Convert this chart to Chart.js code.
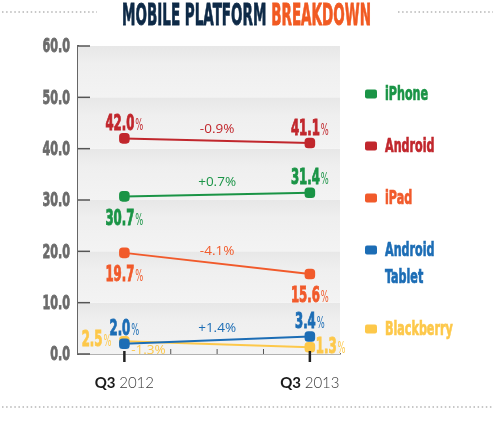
<!DOCTYPE html>
<html>
<head>
<meta charset="utf-8">
<script src="https://cdn.jsdelivr.net/npm/chart.js@4.4.1/dist/chart.umd.min.js"></script>
<style>
    body { margin: 0; background: #ffffff; }
    #wrap { width: 495px; height: 426px; }
</style>
</head>
<body>
<div id="wrap"><canvas id="platformChart" width="495" height="426"></canvas></div>
<script>
const categories = ['Q3 2012', 'Q3 2013'];
const seriesNames = ['iPhone', 'Android', 'iPad', 'Android Tablet', 'Blackberry'];
const iphoneShare = [30.7, 31.4];
const androidShare = [42.0, 41.1];
const ipadShare = [19.7, 15.6];
const androidTabletShare = [2.0, 3.4];
const blackberryShare = [2.5, 1.3];
const changeLabels = ['+0.7%', '-0.9%', '-4.1%', '+1.4%', '-1.3%'];

const seriesColors = ['#1a9446', '#c1272d', '#f15a2b', '#1c6db5', '#fdc84a'];
const NARROW = "'Liberation Sans Narrow', 'DejaVu Sans Condensed', 'Arial Narrow', sans-serif";
const SQUEEZE = 0.62; // horizontal squeeze to get the tall poster-font look

// where each value / change label sits relative to its point
const valuePlacement = [
    ['below', 'above'],
    ['above', 'above'],
    ['below', 'below'],
    ['above', 'above'],
    ['left', 'right'],
];
const changePlacement = [
    { t: 0.5, side: 'above' },
    { t: 0.5, side: 'above' },
    { t: 0.5, side: 'above' },
    { t: 0.5, side: 'above' },
    { t: 0.13, side: 'below' },
];

// quarters elapsed since the first category
function quarterIndex(label) {
    const parts = label.split(' ');
    const q = parseInt(parts[0].slice(1));
    const year = parseInt(parts[1]);
    const first = categories[0].split(' ');
    return (year - parseInt(first[1])) * 4 + (q - parseInt(first[0].slice(1)));
}

const allSeries = [iphoneShare, androidShare, ipadShare, androidTabletShare, blackberryShare];

const datasets = allSeries.map((values, i) => ({
    label: seriesNames[i],
    data: values.map((v, j) => ({ x: quarterIndex(categories[j]), y: v })),
    borderColor: seriesColors[i],
    backgroundColor: seriesColors[i],
    borderWidth: 2,
    pointStyle: 'rectRounded',
    pointRadius: 5,
    pointHoverRadius: 5,
}));

function drawDotted(ctx, x1, x2, y) {
    ctx.save();
    ctx.strokeStyle = '#b5b5b5';
    ctx.lineWidth = 1.6;
    ctx.setLineDash([1.5, 2.6]);
    ctx.beginPath();
    ctx.moveTo(x1, y);
    ctx.lineTo(x2, y);
    ctx.stroke();
    ctx.restore();
}

// squeezed text; returns the drawn width
function narrowWidth(ctx, text, font) {
    ctx.font = font;
    return ctx.measureText(text).width * SQUEEZE;
}
function drawNarrow(ctx, text, left, y, font, color, heavy) {
    ctx.save();
    ctx.font = font;
    ctx.fillStyle = color;
    ctx.translate(left, y);
    ctx.scale(SQUEEZE, 1);
    ctx.fillText(text, 0, 0);
    if (heavy) {
        // thicken a little, the original face is very heavy
        ctx.strokeStyle = color;
        ctx.lineWidth = heavy;
        ctx.strokeText(text, 0, 0);
    }
    ctx.restore();
}

function drawValue(ctx, value, x, y, color, align) {
    const num = value.toFixed(1);
    const fNum = 'bold 21px ' + NARROW;
    const fPct = '15px ' + NARROW;
    ctx.save();
    ctx.textBaseline = 'alphabetic';
    const wNum = narrowWidth(ctx, num, fNum);
    const wPct = narrowWidth(ctx, '%', fPct);
    const total = wNum + wPct + 1;
    let left = x - total / 2;
    if (align === 'right') left = x - total;
    if (align === 'left') left = x;
    const base = y + 7.5;
    drawNarrow(ctx, num, left, base, fNum, color, 0.9);
    drawNarrow(ctx, '%', left + wNum + 1, base, fPct, color);
    ctx.restore();
}

const bandsPlugin = {
    id: 'bands',
    beforeDatasetsDraw(chart) {
        const { ctx, chartArea, scales: { y } } = chart;
        ctx.save();
        const ticks = y.ticks.map(t => t.value);
        for (let i = 0; i < ticks.length - 1; i++) {
            const yTop = y.getPixelForValue(ticks[i + 1]);
            const yBot = y.getPixelForValue(ticks[i]);
            const g = ctx.createLinearGradient(0, yTop, 0, yBot);
            g.addColorStop(0, '#e7e7e7');
            g.addColorStop(0.35, '#efefef');
            g.addColorStop(1, '#f3f3f3');
            ctx.fillStyle = g;
            ctx.fillRect(chartArea.left, yTop, chartArea.right - chartArea.left, yBot - yTop);
        }
        // short inner tick marks on the value axis
        ctx.strokeStyle = '#555555';
        ctx.lineWidth = 1.5;
        y.ticks.forEach(t => {
            const py = y.getPixelForValue(t.value);
            ctx.beginPath();
            ctx.moveTo(chartArea.left, py);
            ctx.lineTo(chartArea.left + 12, py);
            ctx.stroke();
        });
        // value axis labels, squeezed
        ctx.textBaseline = 'middle';
        const fTick = 'bold 20px ' + NARROW;
        y.ticks.forEach(t => {
            const py = y.getPixelForValue(t.value);
            const w = narrowWidth(ctx, t.label, fTick);
            drawNarrow(ctx, t.label, chartArea.left - 8 - w, py + 1, fTick, '#6b6b6b', 0.8);
        });
        ctx.restore();
    },
};

const decorPlugin = {
    id: 'decor',
    afterDatasetsDraw(chart) {
        const { ctx, chartArea, scales: { x, y } } = chart;

        // x tick marks
        ctx.save();
        const majors = categories.map(quarterIndex);
        x.ticks.forEach(t => {
            if (t.value < 0) return;
            const px = x.getPixelForValue(t.value);
            ctx.beginPath();
            if (majors.includes(t.value)) {
                ctx.strokeStyle = '#222222';
                ctx.lineWidth = 2.5;
                ctx.moveTo(px, chartArea.bottom - 3);
                ctx.lineTo(px, chartArea.bottom + 8);
            } else {
                ctx.strokeStyle = '#555555';
                ctx.lineWidth = 1;
                ctx.moveTo(px, chartArea.bottom - 5);
                ctx.lineTo(px, chartArea.bottom);
            }
            ctx.stroke();
        });
        ctx.restore();

        // category labels: bold quarter + light year
        ctx.save();
        ctx.textBaseline = 'middle';
        categories.forEach(label => {
            const px = x.getPixelForValue(quarterIndex(label));
            const parts = label.split(' ');
            ctx.font = 'bold 15px Lato, sans-serif';
            const w1 = ctx.measureText(parts[0] + ' ').width;
            ctx.font = '300 15px Lato, sans-serif';
            const w2 = ctx.measureText(parts[1]).width;
            const left = px - (w1 + w2) / 2;
            ctx.fillStyle = '#1a1a1a';
            ctx.font = 'bold 15px Lato, sans-serif';
            ctx.fillText(parts[0], left, chartArea.bottom + 29);
            ctx.fillStyle = '#3a3a3a';
            ctx.font = '300 15px Lato, sans-serif';
            ctx.fillText(parts[1], left + w1, chartArea.bottom + 29);
        });
        ctx.restore();

        // value labels and change labels
        allSeries.forEach((values, i) => {
            const color = seriesColors[i];
            values.forEach((v, j) => {
                const px = x.getPixelForValue(quarterIndex(categories[j]));
                const py = y.getPixelForValue(v);
                const place = valuePlacement[i][j];
                if (place === 'above') drawValue(ctx, v, px, py - 16, color, 'center');
                else if (place === 'below') drawValue(ctx, v, px, py + 21, color, 'center');
                else if (place === 'left') drawValue(ctx, v, px - 13, py - 3, color, 'right');
                else drawValue(ctx, v, px + 6, py - 2, color, 'left');
            });

            const cp = changePlacement[i];
            const x0 = x.getPixelForValue(quarterIndex(categories[0]));
            const x1 = x.getPixelForValue(quarterIndex(categories[1]));
            const y0 = y.getPixelForValue(values[0]);
            const y1 = y.getPixelForValue(values[1]);
            const cx = x0 + (x1 - x0) * cp.t;
            const cy = y0 + (y1 - y0) * cp.t + (cp.side === 'above' ? -12 : 8);
            ctx.save();
            ctx.fillStyle = color;
            ctx.font = '13.5px "Open Sans", sans-serif';
            ctx.textAlign = 'center';
            ctx.textBaseline = 'middle';
            ctx.fillText(changeLabels[i], cx, cy);
            ctx.restore();
        });
    },
    afterDraw(chart) {
        const { ctx } = chart;

        // title, squeezed into a condensed look
        ctx.save();
        const partA = 'MOBILE PLATFORM ';
        const partB = 'BREAKDOWN';
        ctx.font = 'bold 31px ' + NARROW;
        const wa = ctx.measureText(partA).width;
        const wb = ctx.measureText(partB).width;
        const target = 249;
        const sx = Math.min(1, target / (wa + wb));
        ctx.translate(246.5 - target / 2, 25);
        ctx.scale(sx, 1);
        ctx.textBaseline = 'alphabetic';
        ctx.lineWidth = 0.8;
        ctx.fillStyle = '#0e2a47';
        ctx.strokeStyle = '#0e2a47';
        ctx.fillText(partA, 0, 0);
        ctx.strokeText(partA, 0, 0);
        ctx.fillStyle = '#f15a22';
        ctx.strokeStyle = '#f15a22';
        ctx.fillText(partB, wa, 0);
        ctx.strokeText(partB, wa, 0);
        ctx.restore();

        drawDotted(ctx, 2, 97, 12);
        drawDotted(ctx, 398, 493, 12);
        drawDotted(ctx, 2, 493, 407);

        // legend at the right
        ctx.save();
        ctx.textBaseline = 'middle';
        const fLeg = 'bold 20px ' + NARROW;
        let ly = 94;
        seriesNames.forEach((name, i) => {
            let lines = [name];
            if (narrowWidth(ctx, name, fLeg) > 80) lines = name.split(' ');
            ctx.fillStyle = seriesColors[i];
            ctx.beginPath();
            ctx.roundRect(365, ly - 4.5, 12, 9, 2);
            ctx.fill();
            lines.forEach((ln, k) => {
                drawNarrow(ctx, ln, 385, ly + 1 + k * 27, fLeg, seriesColors[i], 0.7);
            });
            ly += 52 + (lines.length - 1) * 27;
        });
        ctx.restore();
    },
};

const ctx = document.getElementById('platformChart').getContext('2d');
new Chart(ctx, {
    type: 'line',
    data: { datasets: datasets },
    options: {
        responsive: false,
        animation: false,
        layout: { padding: { top: 46, right: 155, bottom: 62, left: 0 } },
        plugins: {
            legend: { display: false },
            tooltip: { enabled: false },
        },
        scales: {
            x: {
                type: 'linear',
                min: -1,
                max: 4.65,
                ticks: { display: false, stepSize: 1, includeBounds: false },
                grid: { display: true, drawOnChartArea: false, drawTicks: false },
                border: { display: true, color: '#666666', width: 1.5 },
                afterFit: (scale) => { scale.height = 10; },
            },
            y: {
                min: 0,
                max: 60,
                ticks: {
                    stepSize: 10,
                    padding: 8,
                    color: 'rgba(0,0,0,0)',
                    font: { family: NARROW, weight: 'bold', size: 18 },
                    callback: (v) => v.toFixed(1),
                },
                grid: { display: true, drawOnChartArea: false, drawTicks: false },
                border: { display: true, color: '#666666', width: 2 },
                afterFit: (scale) => { scale.width = 78; },
            },
        },
    },
    plugins: [bandsPlugin, decorPlugin],
});
</script>
</body>
</html>
